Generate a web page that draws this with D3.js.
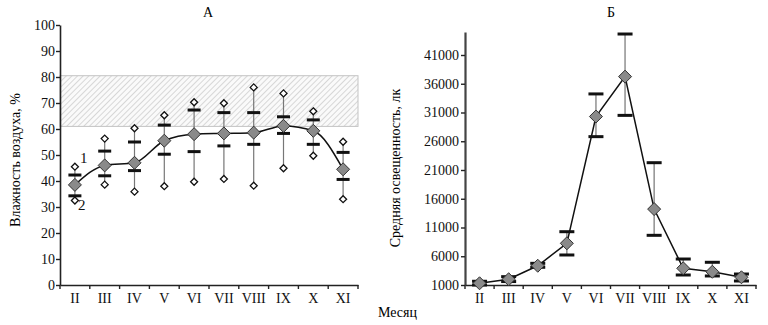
<!DOCTYPE html>
<html>
<head>
<meta charset="utf-8">
<script src="https://cdn.jsdelivr.net/npm/d3@7"></script>
<style>
  body { margin: 0; background: #fff; }
  svg text { font-family: "Liberation Serif", "DejaVu Serif", serif !important; }
</style>
</head>
<body>
<div id="container"></div>
<script>
let w = 768;
let h = 325;

// DATA
let months = ["II", "III", "IV", "V", "VI", "VII", "VIII", "IX", "X", "XI"];

// humidity, %
let humMean = [38.5, 46, 47, 55.5, 58, 58.3, 58.6, 61.2, 59.3, 44.5];
let humUpper = [42.3, 51.5, 55, 61.5, 67.3, 66.3, 66.3, 64.7, 63.5, 51];
let humLower = [34.3, 42, 44, 50.3, 51.3, 53.5, 54.1, 58.3, 54.1, 40.6];
let humMax = [45.5, 56.3, 60.3, 65.3, 70.3, 69.9, 76, 73.7, 66.8, 55.1];
let humMin = [32.5, 38.6, 35.9, 38, 39.7, 40.8, 38.2, 44.9, 49.7, 33];
let optimumBand = [61, 80.5];
let humTicks = [0, 10, 20, 30, 40, 50, 60, 70, 80, 90, 100];

// illuminance, lx
let luxMean = [1300, 2000, 4350, 8250, 30300, 37240, 14200, 3900, 3300, 2340];
let luxUpper = [1650, 2450, 4770, 10270, 34230, 44650, 22270, 5520, 4950, 2910];
let luxLower = [1000, 1600, 4080, 6220, 26800, 30500, 9640, 2740, 2570, 1700];
let luxTicks = [1000, 6000, 11000, 16000, 21000, 26000, 31000, 36000, 41000];

let viz = d3.select("#container").append("svg")
    .attr("width", w)
    .attr("height", h);

// hatch pattern
let defs = viz.append("defs");
let pat = defs.append("pattern")
    .attr("id", "hatch")
    .attr("patternUnits", "userSpaceOnUse")
    .attr("width", 4).attr("height", 4)
    .attr("patternTransform", "rotate(45)");
pat.append("rect").attr("width", 4).attr("height", 4).attr("fill", "#fafafa");
pat.append("line")
    .attr("x1", 0).attr("y1", 0).attr("x2", 0).attr("y2", 4)
    .attr("stroke", "#cfcfcf").attr("stroke-width", 1.6);

function diamond(g, x, y, r, fill, stroke, sw) {
  g.append("path")
    .attr("d", `M${x},${y - r}L${x + r},${y}L${x},${y + r}L${x - r},${y}Z`)
    .attr("fill", fill)
    .attr("stroke", stroke)
    .attr("stroke-width", sw);
}

function styleAxis(g) {
  g.selectAll("path.domain").attr("stroke", "#222").attr("stroke-width", 1.6);
  g.selectAll(".tick line").attr("stroke", "#222").attr("stroke-width", 1.4);
  g.selectAll(".tick text").attr("font-size", 14).attr("fill", "#111");
}

// ---------- CHART A ----------
let xA = d3.scaleBand().domain(months).range([60, 358]);
let yA = d3.scaleLinear().domain([0, 100]).range([285, 25]);

let A = viz.append("g");

A.append("rect")
    .attr("x", xA.range()[0])
    .attr("y", yA(optimumBand[1]))
    .attr("width", xA.range()[1] - xA.range()[0])
    .attr("height", yA(optimumBand[0]) - yA(optimumBand[1]))
    .attr("fill", "url(#hatch)")
    .attr("stroke", "#c4c4c4")
    .attr("stroke-width", 1);

let axAy = A.append("g").attr("transform", "translate(60,0)")
    .call(d3.axisLeft(yA).tickValues(humTicks).tickSize(4).tickPadding(1).tickSizeOuter(0));
styleAxis(axAy);
let axAx = A.append("g").attr("transform", "translate(0,285)")
    .call(d3.axisBottom(xA).tickSize(0).tickPadding(8).tickSizeOuter(0));
styleAxis(axAx);
// band boundary ticks
A.selectAll(".bt").data(d3.range(months.length + 1)).enter()
  .append("line")
    .attr("x1", function(d){ return xA.range()[0] + d * xA.step(); })
    .attr("x2", function(d){ return xA.range()[0] + d * xA.step(); })
    .attr("y1", 285).attr("y2", 289)
    .attr("stroke", "#222").attr("stroke-width", 1.4);

months.forEach(function(m, i) {
  let cx = xA(m) + xA.bandwidth() / 2;
  A.append("line")
    .attr("x1", cx).attr("x2", cx)
    .attr("y1", yA(humMin[i])).attr("y2", yA(humMax[i]))
    .attr("stroke", "#777").attr("stroke-width", 1.2);
  [humUpper[i], humLower[i]].forEach(function(v) {
    A.append("line")
      .attr("x1", cx - 6.5).attr("x2", cx + 6.5)
      .attr("y1", yA(v)).attr("y2", yA(v))
      .attr("stroke", "#111").attr("stroke-width", 3);
  });
});

let lineA = d3.line()
    .x(function(d, i){ return xA(months[i]) + xA.bandwidth() / 2; })
    .y(function(d){ return yA(d); })
    .curve(d3.curveMonotoneX);
A.append("path").attr("d", lineA(humMean))
    .attr("fill", "none").attr("stroke", "#111").attr("stroke-width", 1.5);

months.forEach(function(m, i) {
  let cx = xA(m) + xA.bandwidth() / 2;
  diamond(A, cx, yA(humMax[i]), 3.5, "#fff", "#111", 1.3);
  diamond(A, cx, yA(humMin[i]), 3.5, "#fff", "#111", 1.3);
  diamond(A, cx, yA(humMean[i]), 6.5, "#8a8a8a", "#333", 1);
});

A.append("text").attr("x", 80).attr("y", 163).attr("font-size", 15).attr("fill", "#111").text("1");
A.append("text").attr("x", 78).attr("y", 210).attr("font-size", 15).attr("fill", "#111").text("2");

A.append("text").attr("x", 208).attr("y", 17).attr("text-anchor", "middle")
    .attr("font-size", 14).text("А");
A.append("text")
    .attr("transform", "translate(20,160) rotate(-90)")
    .attr("text-anchor", "middle").attr("font-size", 14)
    .text("Влажность воздуха, %");

// ---------- CHART Б ----------
let xB = d3.scaleBand().domain(months).range([465, 756]);
let yB = d3.scaleLinear().domain([1000, 45000]).range([285, 32]);

let B = viz.append("g");

let axBy = B.append("g").attr("transform", "translate(465,0)")
    .call(d3.axisLeft(yB).tickValues(luxTicks).tickFormat(d3.format("d"))
      .tickSize(4).tickPadding(2).tickSizeOuter(0));
styleAxis(axBy);
axBy.select("path.domain").attr("stroke", "#444").attr("stroke-width", 2.2);
let axBx = B.append("g").attr("transform", "translate(0,285)")
    .call(d3.axisBottom(xB).tickSize(0).tickPadding(8).tickSizeOuter(0));
styleAxis(axBx);
B.selectAll(".bt").data(d3.range(months.length + 1)).enter()
  .append("line")
    .attr("x1", function(d){ return xB.range()[0] + d * xB.step(); })
    .attr("x2", function(d){ return xB.range()[0] + d * xB.step(); })
    .attr("y1", 285).attr("y2", 289)
    .attr("stroke", "#222").attr("stroke-width", 1.4);

months.forEach(function(m, i) {
  let cx = xB(m) + xB.bandwidth() / 2;
  B.append("line")
    .attr("x1", cx).attr("x2", cx)
    .attr("y1", yB(luxLower[i])).attr("y2", yB(luxUpper[i]))
    .attr("stroke", "#888").attr("stroke-width", 1.4);
  [luxUpper[i], luxLower[i]].forEach(function(v) {
    B.append("line")
      .attr("x1", cx - 7.5).attr("x2", cx + 7.5)
      .attr("y1", yB(v)).attr("y2", yB(v))
      .attr("stroke", "#111").attr("stroke-width", 3);
  });
});

let lineB = d3.line()
    .x(function(d, i){ return xB(months[i]) + xB.bandwidth() / 2; })
    .y(function(d){ return yB(d); });
B.append("path").attr("d", lineB(luxMean))
    .attr("fill", "none").attr("stroke", "#111").attr("stroke-width", 1.5);

months.forEach(function(m, i) {
  let cx = xB(m) + xB.bandwidth() / 2;
  diamond(B, cx, yB(luxMean[i]), 6.5, "#8a8a8a", "#333", 1);
});

B.append("text").attr("x", 611).attr("y", 17).attr("text-anchor", "middle")
    .attr("font-size", 14).text("Б");
B.append("text")
    .attr("transform", "translate(400,168) rotate(-90)")
    .attr("text-anchor", "middle").attr("font-size", 14)
    .text("Средняя освещенность, лк");

viz.append("text").attr("x", 378).attr("y", 317).attr("font-size", 14).text("Месяц");
</script>
</body>
</html>
